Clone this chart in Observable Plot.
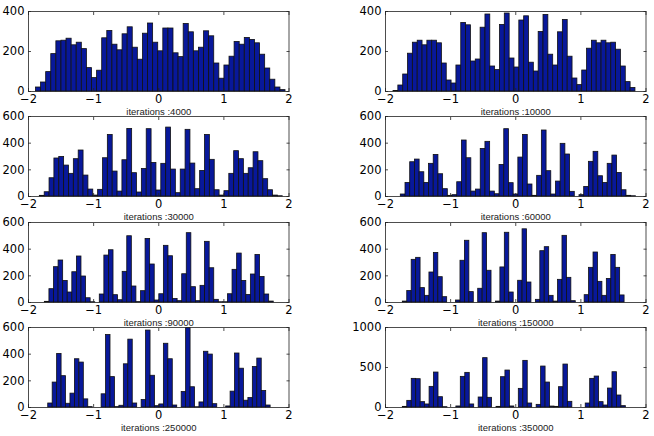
<!DOCTYPE html>
<html>
<head>
<meta charset="utf-8">
<script src="https://cdn.jsdelivr.net/npm/d3@7"></script>
<script src="https://cdn.jsdelivr.net/npm/@observablehq/plot@0.6"></script>
<style>
  html, body { margin: 0; padding: 0; background: white; }
  #chart { position: relative; width: 654px; height: 436px; overflow: hidden; }
  #chart svg { position: absolute; }
</style>
</head>
<body>
<div id="chart"></div>
<script>
// counts per bin
const counts4000 = [20,45,97,187,251,254,264,231,244,212,117,67,104,266,303,234,206,286,321,219,159,289,340,244,201,315,315,191,172,338,296,201,219,301,276,140,64,130,174,248,234,268,258,241,184,115,59,20,7];
const counts10000 = [3,30,85,189,244,254,231,254,254,241,140,55,40,130,343,331,150,160,319,385,125,107,333,390,165,120,355,376,144,100,298,383,184,130,296,358,174,65,32,105,214,254,241,254,241,244,209,125,47,18];
const counts30000 = [5,32,137,285,297,232,170,280,345,157,52,7,50,287,462,187,37,272,507,175,30,207,505,252,45,245,517,202,25,202,500,247,55,192,462,275,47,7,40,170,340,280,170,212,332,265,130,47,7,2];
const counts60000 = [15,102,257,277,182,102,245,312,167,55,5,10,107,420,287,37,52,357,410,37,17,237,505,100,15,292,462,90,5,155,495,190,15,112,395,315,35,0,10,72,260,335,152,102,245,307,177,47,5,2];
const counts90000 = [5,100,265,315,162,75,227,345,195,32,2,0,60,352,392,55,17,230,497,120,3,85,477,285,15,62,425,347,27,10,212,520,115,10,125,455,257,20,2,2,62,245,367,162,57,210,357,192,60,7];
const counts150000 = [7,86,320,335,108,50,225,372,190,40,0,0,15,313,463,78,0,103,520,238,0,7,263,523,75,0,163,549,150,0,20,385,415,50,7,170,500,185,10,0,0,55,260,375,155,50,177,357,260,53];
const counts250000 = [30,187,402,235,28,104,362,337,61,3,0,0,99,544,228,3,13,324,509,30,0,56,577,238,10,23,478,362,15,0,116,595,152,2,38,418,397,25,0,0,8,119,405,291,51,71,304,367,124,15];
const counts350000 = [8,83,358,354,67,38,258,437,129,4,0,0,13,383,433,38,0,125,617,121,0,8,379,462,13,0,233,583,50,0,33,512,312,12,8,254,537,71,0,0,0,50,358,387,67,25,237,441,150,17];

const allCounts = [counts4000, counts10000, counts30000, counts60000, counts90000, counts150000, counts250000, counts350000];
const iterationLabels = ["iterations :4000", "iterations :10000", "iterations :30000", "iterations :60000", "iterations :90000", "iterations :150000", "iterations :250000", "iterations :350000"];
const binStarts = [-1.885, -1.877, -1.826, -1.765, -1.749, -1.734, -1.697, -1.734];
const binWidths = [0.0782, 0.0743, 0.0746, 0.0722, 0.0703, 0.0681, 0.0683, 0.0685];
const yMaxes = [400, 400, 600, 600, 600, 600, 600, 1000];
const yTickSets = [[0,200,400], [0,200,400], [0,200,400,600], [0,200,400,600], [0,200,400,600], [0,200,400,600], [0,200,400,600], [0,500,1000]];
const xTicks = [-2, -1, 0, 1, 2];

// where the frames sit on the page
const colLefts = [27.5, 385];
const rowTops = [11, 116, 221.7, 327];
const frameW = 260.5, frameH = 80;
const mL = 30, mR = 10, mT = 5, mB = 30;

const holder = d3.select("#chart");
const intFormat = d3.format("d");

allCounts.forEach((counts, i) => {
  const bars = counts.map((c, k) => ({
    x1: binStarts[i] + k * binWidths[i],
    x2: binStarts[i] + (k + 1) * binWidths[i],
    y: c
  }));
  // tick marks only, pointing into the box on all four sides
  const tickOpts = {tickSize: -3, fill: "none", stroke: "#222", strokeWidth: 0.8, label: null};
  const labelOpts = {tickSize: 0, fontSize: 11.5, fontFamily: "DejaVu Sans", tickFormat: intFormat, label: null};
  const chart = Plot.plot({
    width: frameW + mL + mR,
    height: frameH + mT + mB,
    marginLeft: mL, marginRight: mR, marginTop: mT, marginBottom: mB,
    style: {background: "transparent", fontFamily: "Liberation Sans", color: "black", overflow: "visible"},
    x: {domain: [-2, 2]},
    y: {domain: [0, yMaxes[i]]},
    marks: [
      Plot.rectY(bars, {x1: "x1", x2: "x2", y: "y", fill: "#08189a", stroke: "#111", strokeWidth: 0.8}),
      Plot.frame({stroke: "#222", strokeWidth: 0.8}),
      Plot.axisX({anchor: "bottom", ticks: xTicks, ...tickOpts}),
      Plot.axisX({anchor: "top", ticks: xTicks, ...tickOpts}),
      Plot.axisY({anchor: "left", ticks: yTickSets[i], ...tickOpts}),
      Plot.axisY({anchor: "right", ticks: yTickSets[i], ...tickOpts}),
      Plot.axisX({anchor: "bottom", ticks: xTicks, tickPadding: 3, ...labelOpts}),
      Plot.axisY({anchor: "left", ticks: yTickSets[i], tickPadding: 4, ...labelOpts}),
      Plot.text([iterationLabels[i]], {frameAnchor: "bottom", dy: 23.5, fontSize: 9.5, fill: "#222"})
    ]
  });
  const col = i % 2, row = Math.floor(i / 2);
  holder.append(() => chart)
    .style("left", (colLefts[col] - mL) + "px")
    .style("top", (rowTops[row] - mT) + "px");
});
</script>
</body>
</html>
